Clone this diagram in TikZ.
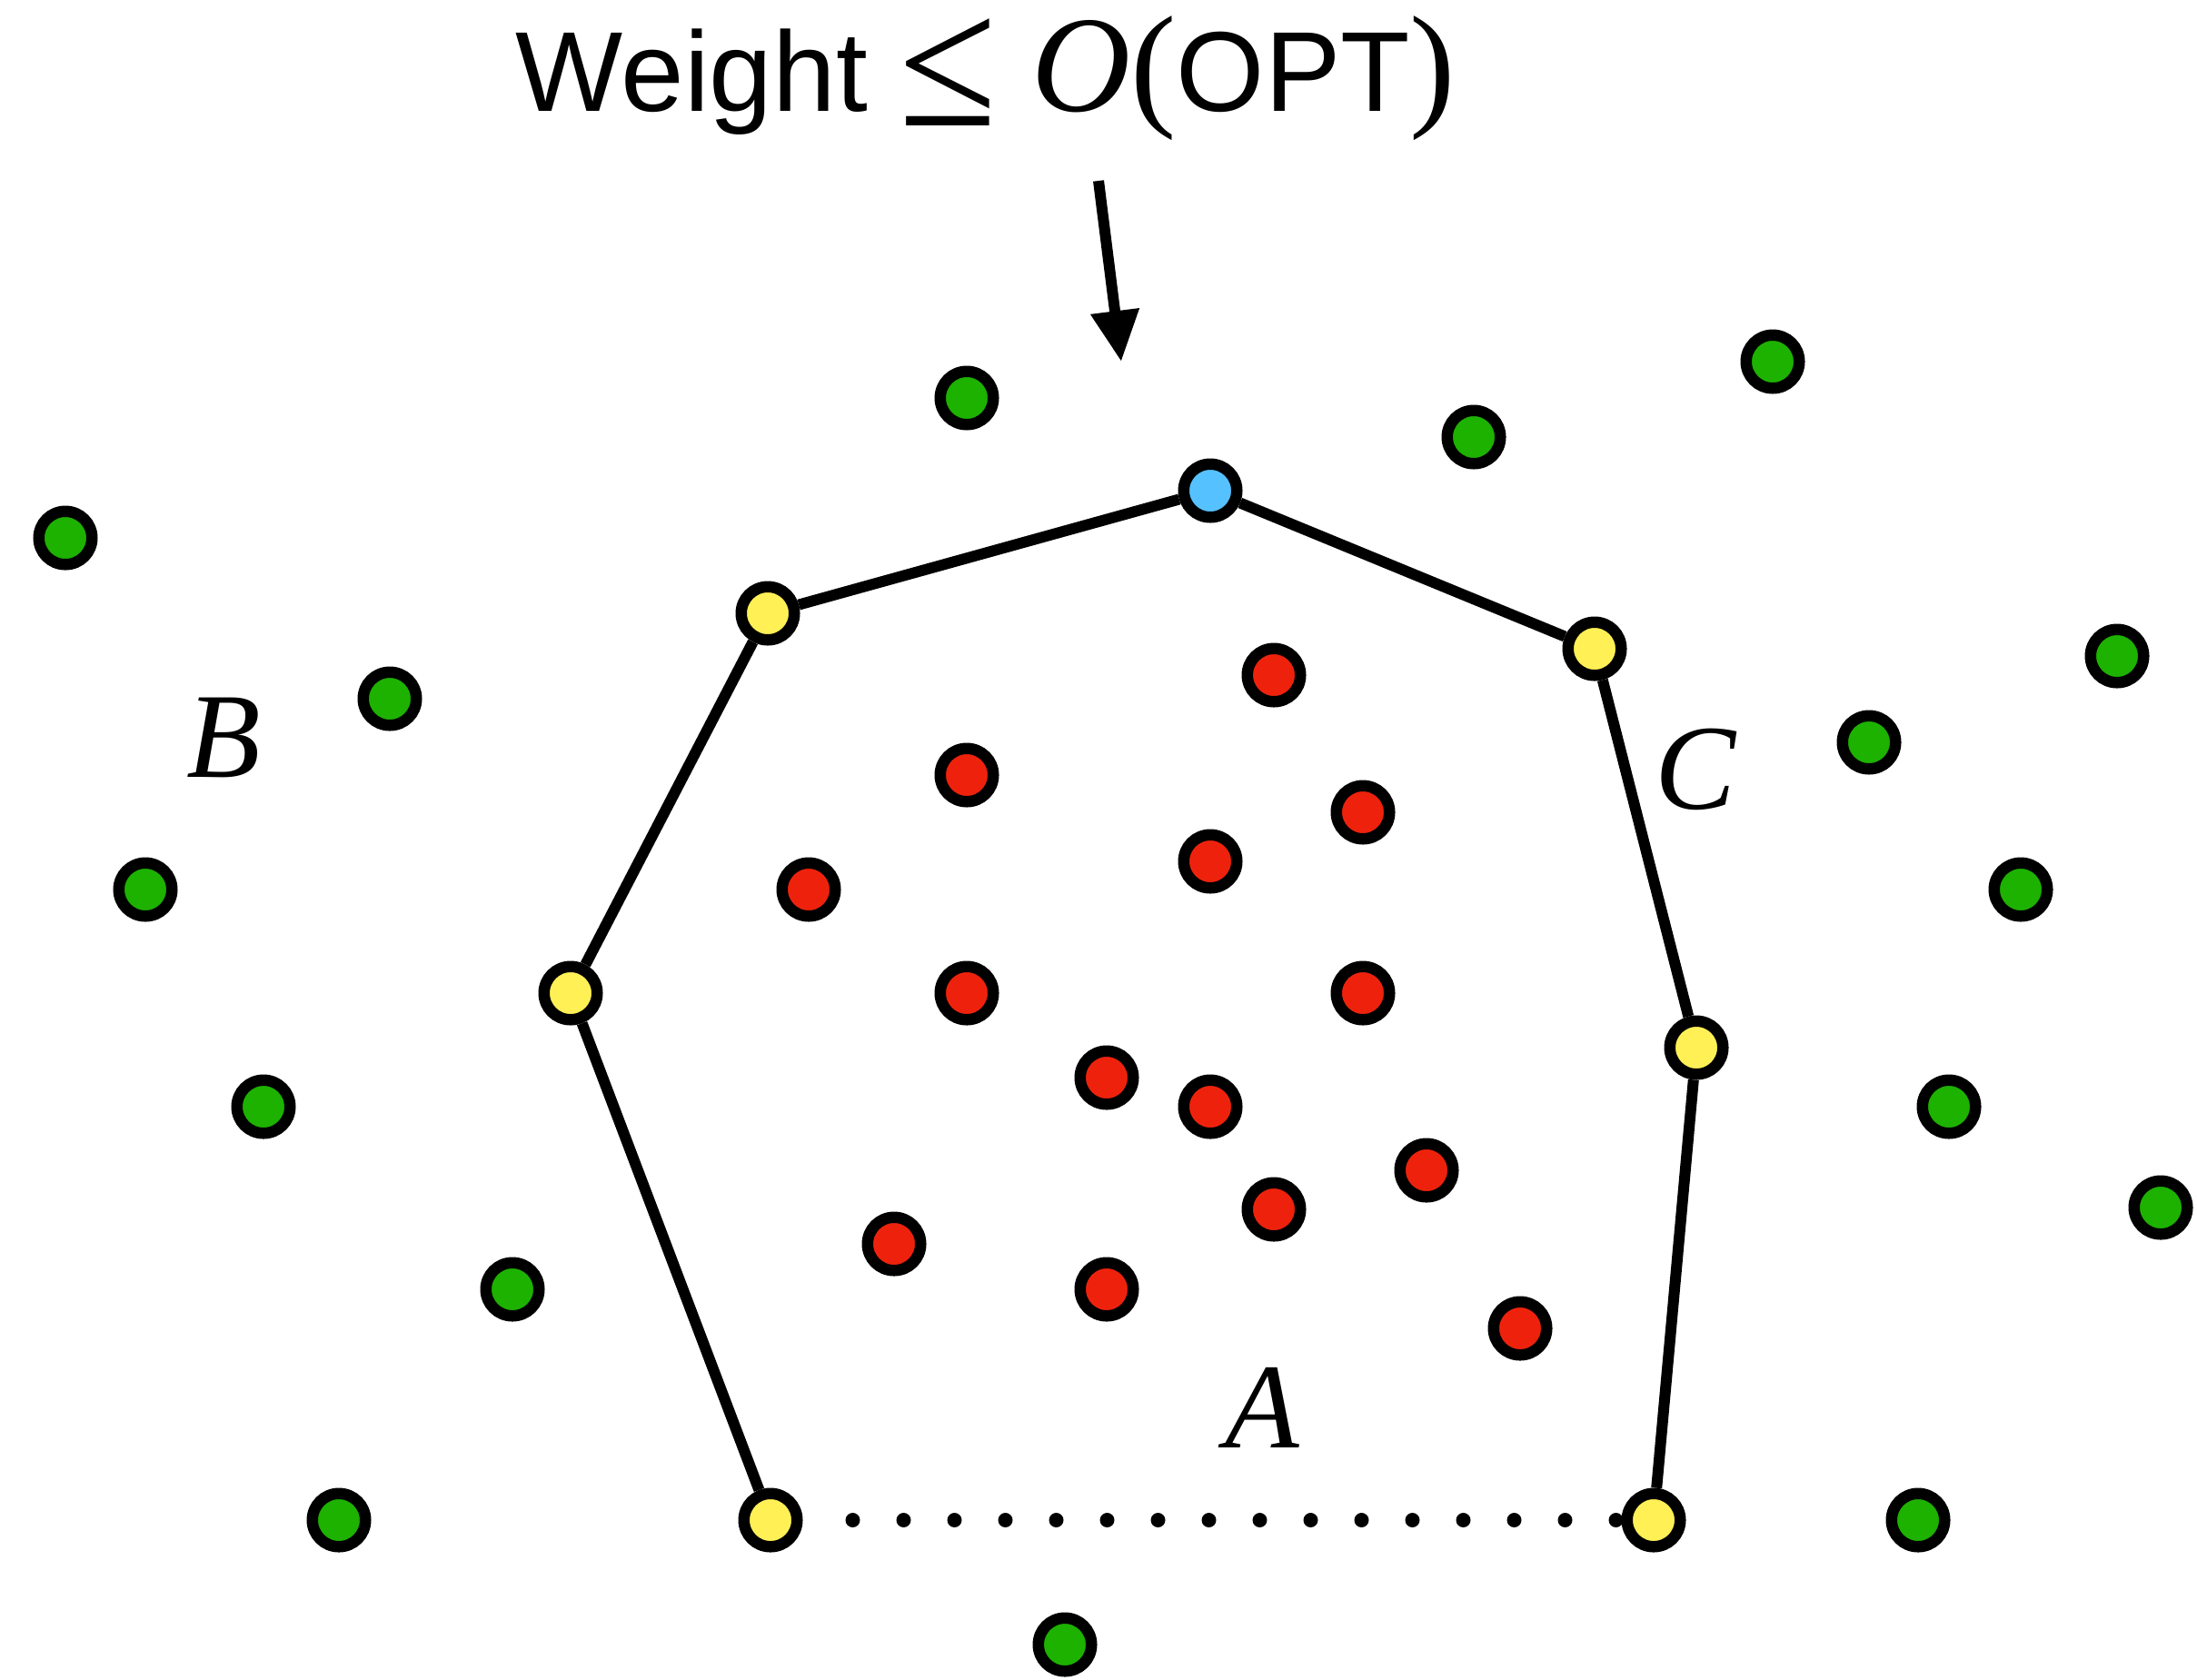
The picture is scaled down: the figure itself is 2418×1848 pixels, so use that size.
\documentclass[tikz,border=0pt]{standalone}
\usepackage{fontspec}
\setmainfont{Liberation Sans}
\newfontfamily\serif{Liberation Serif}
\usetikzlibrary{arrows.meta}
\definecolor{ptgreen}{RGB}{29,177,0}
\definecolor{ptred}{RGB}{238,34,12}
\definecolor{ptyellow}{RGB}{255,240,86}
\definecolor{ptblue}{RGB}{86,193,255}

\begin{document}
\begin{tikzpicture}[x=0.1mm,y=-0.1mm,
  pt/.style={circle,draw=black,line width=1.25mm,minimum size=5.85mm,inner sep=0pt},
  hull/.style={line width=1.2mm},
  lbl/.style={font=\serif\itshape\fontsize{38}{40}\selectfont,anchor=base}]
\useasboundingbox (0,0) rectangle (2418,1848);

% title and arrow
\node[anchor=base,font=\fontsize{35.6}{40}\selectfont] (title) at (1085,122)
  {Weight {\serif\fontsize{43}{50}\selectfont\raisebox{-1.6mm}{\scalebox{1.3}[1.36]{≤}} \textit{O}(}OPT{\serif\fontsize{43}{50}\selectfont)}};
\coordinate (arrowtail) at (1209,199);
\coordinate (arrowtip) at (1234,398);
\draw[line width=1.2mm,-{Triangle[length=5.6mm,width=5.1mm]}] (arrowtail) -- (arrowtip);

% points outside
\foreach \x/\y [count=\i] in {1064/438,1622/481,1951/398,72/592,429/769,160/979,
    290/1218,564/1419,373/1673,1172/1810,2330/722,2057/817,2224/979,2145/1218,
    2378/1329,2111/1673}
  \node[pt,fill=ptgreen] (g\i) at (\x,\y) {};

% points inside
\foreach \x/\y [count=\i] in {1402/743,1064/853,1500/894,1332/948,890/979,
    1064/1093,1500/1093,1218/1186,1332/1218,1570/1288,1402/1331,984/1369,
    1218/1419,1673/1462}
  \node[pt,fill=ptred] (r\i) at (\x,\y) {};

% hull points
\node[pt,fill=ptblue] (top) at (1332,540) {};
\foreach \x/\y [count=\i] in {845/675,1755/714,628/1093,1867/1153,848/1673,1820/1673}
  \node[pt,fill=ptyellow] (y\i) at (\x,\y) {};

% hull edges
\draw[hull] (y5) -- (y3) -- (y1) -- (top) -- (y2) -- (y4) -- (y6);
\draw[line width=1.6mm,line cap=round,dash pattern=on 0pt off 5.6mm,
  shorten <=5.5mm] (y5) -- (y6);

% labels
\node[lbl] (labA) at (1389,1593) {A};
\node[lbl] (labB) at (246,855) {B};
\node[lbl] (labC) at (1866,890) {C};
\end{tikzpicture}
\end{document}
